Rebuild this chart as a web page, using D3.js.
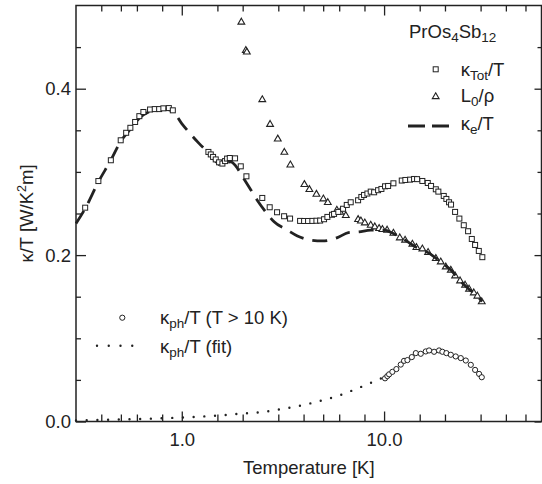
<!DOCTYPE html>
<html lang="en">
<head>
<meta charset="UTF-8" />
<title>PrOs4Sb12 thermal conductivity</title>
<script src="https://d3js.org/d3.v7.min.js"></script>
<style>
  body { margin: 0; background: #fff; }
  text { font-family: "Liberation Sans", Arial, Helvetica, sans-serif; fill: #222; font-size: 18.5px; }
</style>
</head>
<body>
<svg id="chart" width="542" height="484"></svg>
<script>
// kappa_tot / T (squares)
const totTemp = [0.333, 0.387, 0.446, 0.499, 0.531, 0.557, 0.588, 0.617, 0.646, 0.697, 0.735, 0.773, 0.811, 0.863, 0.903,
  1.354, 1.391, 1.428, 1.472, 1.529, 1.588, 1.637, 1.675, 1.727, 1.834, 1.957, 2.087,
  2.50, 2.72, 2.958, 3.205, 3.43, 3.845, 4.024, 4.21, 4.42, 4.63, 4.83, 5.05, 5.245, 5.53, 5.66, 5.94, 6.27, 6.54, 6.84,
  7.44, 7.72, 7.96, 8.27, 8.59, 8.93, 9.34, 9.70, 10.11, 10.47, 11.12, 12.23, 12.74, 13.45, 14.07, 14.56, 15.46, 16.44,
  17.07, 18.02, 18.55, 19.72, 20.32, 20.95, 21.43, 22.44, 23.56, 24.77, 26.02, 27.14, 28.18, 29.39, 30.6];
const totKappa = [0.257, 0.289, 0.314, 0.338, 0.347, 0.353, 0.360, 0.367, 0.372, 0.375, 0.3755, 0.3755, 0.3764, 0.3767, 0.374,
  0.324, 0.321, 0.318, 0.315, 0.3115, 0.310, 0.313, 0.316, 0.3167, 0.3163, 0.3067, 0.2947,
  0.2687, 0.2575, 0.2515, 0.2467, 0.2439, 0.2411, 0.241, 0.241, 0.2411, 0.2413, 0.2415, 0.2431, 0.2459, 0.2485, 0.2495, 0.2519, 0.2557, 0.2603, 0.2635,
  0.2659, 0.2699, 0.2723, 0.274, 0.2763, 0.2755, 0.278, 0.2795, 0.2827, 0.2831, 0.2863, 0.2896, 0.2903, 0.2907, 0.2915, 0.2913, 0.2891, 0.2867,
  0.2831, 0.2791, 0.2763, 0.2711, 0.2675, 0.2635, 0.2607, 0.2519, 0.2439, 0.2359, 0.2287, 0.2194, 0.2122, 0.205, 0.1975];

// L0 / rho (triangles)
const lorTemp = [1.970, 2.073, 2.097, 2.50, 2.732, 2.982, 3.214, 3.442, 4.037, 4.273, 4.63, 5.01, 5.27, 5.84, 6.06, 6.47,
  7.44, 7.68, 8.03, 8.59, 9.0, 9.45, 9.81, 10.35, 11.12, 11.96, 12.70, 13.8, 14.45, 15.46, 16.5, 18.02, 19.06, 20.18,
  21.37, 22.44, 23.75, 25.14, 26.31, 27.76, 28.92, 30.4];
const lorKappa = [0.480, 0.446, 0.444, 0.3868, 0.3571, 0.3395, 0.3235, 0.3083, 0.2848, 0.2788, 0.2731, 0.2675, 0.2631, 0.2539, 0.2515, 0.2475,
  0.2427, 0.241, 0.2387, 0.2359, 0.2339, 0.232, 0.2308, 0.230, 0.2263, 0.2207, 0.2179, 0.2131, 0.2091, 0.2074, 0.2031, 0.1959, 0.1918, 0.1858,
  0.1819, 0.175, 0.169, 0.1639, 0.1591, 0.1546, 0.1507, 0.1438];

// kappa_e / T (dashed)
const elTemp = [0.3, 0.333, 0.387, 0.446, 0.5, 0.56, 0.62, 0.7, 0.8, 0.9, 1.0, 1.1, 1.22, 1.34, 1.5, 1.56, 1.65, 1.75, 1.85,
  2.0, 2.2, 2.36, 2.6, 2.86, 3.33, 3.73, 4.34, 4.95, 5.88, 6.66, 7.52, 8.6, 10.0, 11.1, 12.7, 14.5, 16.5, 19.0, 21.4,
  23.75, 26.3, 28.9, 30.5];
const elKappa = [0.238, 0.256, 0.288, 0.314, 0.337, 0.352, 0.365, 0.373, 0.376, 0.373, 0.358, 0.346, 0.334, 0.324, 0.311, 0.308, 0.311, 0.312, 0.307,
  0.294, 0.278, 0.266, 0.252, 0.240, 0.230, 0.223, 0.218, 0.217, 0.221, 0.227, 0.228, 0.230, 0.230, 0.226, 0.218, 0.209, 0.203, 0.192, 0.182,
  0.169, 0.159, 0.151, 0.144];

// kappa_ph / T for T > 10 K (circles)
const phTemp = [10.11, 10.38, 10.59, 10.99, 11.5, 12.09, 12.55, 13.04, 13.71, 14.35, 15.18, 16.07, 16.69, 17.67, 18.7,
  19.42, 20.32, 21.37, 22.6, 23.94, 25.35, 26.83, 28.18, 29.49, 30.4];
const phKappa = [0.0519, 0.0546, 0.0567, 0.0597, 0.063, 0.0684, 0.0729, 0.0738, 0.0774, 0.0822, 0.0814, 0.0842, 0.0854, 0.0838, 0.0854,
  0.0838, 0.0822, 0.0802, 0.0782, 0.0762, 0.0733, 0.0681, 0.0620, 0.0572, 0.0532];

// kappa_ph / T fit (dotted)
const fitTemp = [0.3, 0.5, 1.0, 1.5, 2.0, 2.5, 3.0, 4.0, 5.0, 6.0, 7.0, 8.0, 9.0, 10.0];
const fitKappa = [0.0012, 0.0024, 0.0048, 0.0071, 0.0096, 0.0114, 0.0144, 0.0198, 0.0258, 0.0312, 0.0375, 0.0432, 0.0486, 0.0534];

// ticks
const xMajorTicks = [1, 10];
const xMinorTicks = [0.4, 0.5, 0.6, 0.8, 1.5, 2, 3, 4, 5, 6, 8, 15, 20, 30, 40, 50];
const yMajorTicks = [0, 0.2, 0.4];
const yMinorTicks = [0.05, 0.1, 0.15, 0.25, 0.3, 0.35, 0.45];

const svg = d3.select("svg#chart");
const ink = "#222";
const frame = { left: 76, right: 541.5, top: 5.5, bottom: 421.5 };

const x = d3.scaleLog().domain([0.3, 60]).range([frame.left, frame.right]);
const y = d3.scaleLinear().domain([0, 0.5]).range([frame.bottom, frame.top]);

const fmt = d3.format(".1f");

// axes, all ticks pointing inward
function addAxis(axis, tx, ty) {
  const g = svg.append("g")
    .attr("transform", `translate(${tx},${ty})`)
    .attr("color", ink)
    .call(axis);
  g.select(".domain").remove();
  g.selectAll("line").attr("stroke-width", 1.3);
  g.selectAll("text").attr("font-size", null).attr("font-family", null);
  return g;
}

addAxis(d3.axisBottom(x).tickValues(xMajorTicks).tickSizeInner(-10).tickSizeOuter(0).tickPadding(11).tickFormat(fmt), 0, frame.bottom);
addAxis(d3.axisBottom(x).tickValues(xMinorTicks).tickSizeInner(-7).tickSizeOuter(0).tickFormat(""), 0, frame.bottom);
addAxis(d3.axisTop(x).tickValues(xMajorTicks).tickSizeInner(-10).tickSizeOuter(0).tickFormat(""), 0, frame.top);
addAxis(d3.axisTop(x).tickValues(xMinorTicks).tickSizeInner(-6).tickSizeOuter(0).tickFormat(""), 0, frame.top);

addAxis(d3.axisLeft(y).tickValues(yMajorTicks).tickSizeInner(-10).tickSizeOuter(0).tickPadding(5).tickFormat(fmt), frame.left, 0);
addAxis(d3.axisLeft(y).tickValues(yMinorTicks).tickSizeInner(-5).tickSizeOuter(0).tickFormat(""), frame.left, 0);
addAxis(d3.axisRight(y).tickValues(yMajorTicks).tickSizeInner(-7).tickSizeOuter(0).tickFormat(""), frame.right, 0);
addAxis(d3.axisRight(y).tickValues(yMinorTicks).tickSizeInner(-4).tickSizeOuter(0).tickFormat(""), frame.right, 0);

svg.append("rect")
  .attr("x", frame.left)
  .attr("y", frame.top)
  .attr("width", frame.right - frame.left)
  .attr("height", frame.bottom - frame.top)
  .attr("fill", "none")
  .attr("stroke", ink)
  .attr("stroke-width", 1.5);

// axis labels
svg.append("text")
  .attr("x", (frame.left + frame.right) / 2)
  .attr("y", 474)
  .attr("text-anchor", "middle")
  .text("Temperature [K]");

const yLabel = svg.append("text")
  .attr("transform", `translate(33,${(frame.top + frame.bottom) / 2}) rotate(-90)`)
  .attr("text-anchor", "middle");
yLabel.append("tspan").text("κ/T [W/K");
yLabel.append("tspan").attr("font-size", 12.5).attr("dy", -7).text("2");
yLabel.append("tspan").attr("dy", 7).text("m]");

// series
const plot = svg.append("g");
const line = d3.line().x(d => x(d[0])).y(d => y(d[1])).curve(d3.curveMonotoneX);
const tri = d3.symbol().type(d3.symbolTriangle).size(20);

plot.append("g")
  .selectAll("path")
  .data(d3.zip(lorTemp, lorKappa))
  .join("path")
  .attr("d", tri)
  .attr("transform", d => `translate(${x(d[0])},${y(d[1])})`)
  .attr("fill", "#fff")
  .attr("stroke", ink)
  .attr("stroke-width", 1.1);

plot.append("path")
  .datum(d3.zip(elTemp, elKappa))
  .attr("d", line)
  .attr("fill", "none")
  .attr("stroke", ink)
  .attr("stroke-width", 2.8)
  .attr("stroke-dasharray", "15,9");

plot.append("g")
  .selectAll("rect")
  .data(d3.zip(totTemp, totKappa))
  .join("rect")
  .attr("x", d => x(d[0]) - 2.5)
  .attr("y", d => y(d[1]) - 2.5)
  .attr("width", 5)
  .attr("height", 5)
  .attr("fill", "#fff")
  .attr("stroke", ink)
  .attr("stroke-width", 1);

plot.append("path")
  .datum(d3.zip(fitTemp, fitKappa))
  .attr("d", line)
  .attr("fill", "none")
  .attr("stroke", ink)
  .attr("stroke-width", 2.4)
  .attr("stroke-linecap", "round")
  .attr("stroke-dasharray", "0,10.7");

plot.append("g")
  .selectAll("circle")
  .data(d3.zip(phTemp, phKappa))
  .join("circle")
  .attr("cx", d => x(d[0]))
  .attr("cy", d => y(d[1]))
  .attr("r", 2.6)
  .attr("fill", "#fff")
  .attr("stroke", ink)
  .attr("stroke-width", 1);

// legend, top right
const title = svg.append("text").attr("x", 409).attr("y", 37.5);
title.append("tspan").text("PrOs");
title.append("tspan").attr("font-size", 13.5).attr("dy", 4).text("4");
title.append("tspan").attr("dy", -4).text("Sb");
title.append("tspan").attr("font-size", 13.5).attr("dy", 4).text("12");

function subLabel(tx, ty, main, sub, rest) {
  const t = svg.append("text").attr("x", tx).attr("y", ty);
  t.append("tspan").text(main);
  t.append("tspan").attr("font-size", 13.5).attr("dy", 4).text(sub);
  t.append("tspan").attr("dy", -4).text(rest);
}

svg.append("rect")
  .attr("x", 433.2).attr("y", 66.8).attr("width", 5).attr("height", 5)
  .attr("fill", "#fff").attr("stroke", ink).attr("stroke-width", 1);
subLabel(460.7, 75.5, "κ", "Tot", "/T");

svg.append("path")
  .attr("d", tri)
  .attr("transform", "translate(435.7,96.7)")
  .attr("fill", "#fff").attr("stroke", ink).attr("stroke-width", 1.1);
subLabel(460.7, 102.3, "L", "0", "/ρ");

svg.append("line")
  .attr("x1", 408).attr("x2", 450).attr("y1", 126).attr("y2", 126)
  .attr("stroke", ink).attr("stroke-width", 2.8).attr("stroke-dasharray", "17,7");
subLabel(460.7, 130, "κ", "e", "/T");

// legend, lower left
svg.append("circle")
  .attr("cx", 122.3).attr("cy", 317.7).attr("r", 2.6)
  .attr("fill", "#fff").attr("stroke", ink).attr("stroke-width", 1);
subLabel(160, 324.3, "κ", "ph", "/T (T > 10 K)");

svg.append("line")
  .attr("x1", 97).attr("x2", 144).attr("y1", 345.7).attr("y2", 345.7)
  .attr("stroke", ink).attr("stroke-width", 2.4).attr("stroke-linecap", "round")
  .attr("stroke-dasharray", "0,11.75");
subLabel(160, 353.3, "κ", "ph", "/T (fit)");
</script>
</body>
</html>
